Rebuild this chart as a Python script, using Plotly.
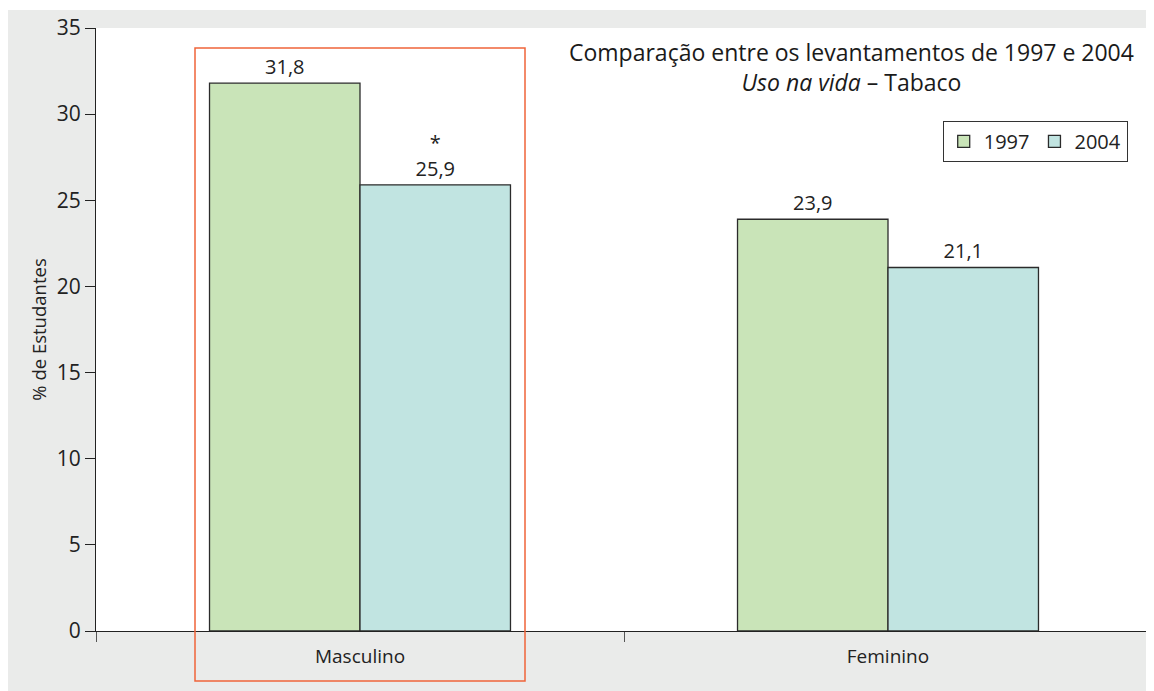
import plotly.graph_objects as go

# data
categories = ['Masculino', 'Feminino']
years = ['1997', '2004']
values_1997 = [31.8, 23.9]
values_2004 = [25.9, 21.1]
marks_2004 = ['*', '']  # significant difference marker

colors = {'1997': '#C9E4B8', '2004': '#C1E4E1'}
font_family = 'Open Sans, Noto Sans, sans-serif'


def fmt(v):
    return f'{v:.1f}'.replace('.', ',')


fig = go.Figure()

fig.add_trace(
    go.Bar(
        x = categories,
        y = values_1997,
        name = years[0],
        marker = dict(color = colors['1997'], line = dict(color = '#2b2b2b', width = 1.3)),
        text = [fmt(v) for v in values_1997],
        textposition = 'outside',
        cliponaxis = False,
    )
)

fig.add_trace(
    go.Bar(
        x = categories,
        y = values_2004,
        name = years[1],
        marker = dict(color = colors['2004'], line = dict(color = '#2b2b2b', width = 1.3)),
        text = [(m + '<br>' if m else '') + fmt(v) for v, m in zip(values_2004, marks_2004)],
        textposition = 'outside',
        cliponaxis = False,
    )
)

# plot area size in px (for placing the decorations in paper coords)
W, H = 1146, 683
ml, mr, mt, mb = 88, 2, 20, 60
pw = W - ml - mr
ph = H - mt - mb

# highlight box around the first category
n = len(categories)
half = 0.3125
x0 = (0 + 0.5 - half) / n
x1 = (0 + 0.5 + half) / n

fig.update_layout(
    width = W,
    height = H,
    margin = dict(l = ml, r = mr, t = mt, b = mb),
    paper_bgcolor = '#EAEBEA',
    plot_bgcolor = 'white',
    separators = ',.',
    barmode = 'group',
    bargap = 0.43,
    bargroupgap = 0,
    font = dict(family = font_family, color = '#222222', size = 19),
    showlegend = True,
    legend = dict(
        orientation = 'h',
        x = 0.977, xanchor = 'right',
        y = 0.846, yanchor = 'top',
        bgcolor = 'white',
        bordercolor = '#333333',
        borderwidth = 1,
        font = dict(size = 20),
        tracegroupgap = 0,
    ),
    shapes = [
        dict(type = 'rect', xref = 'paper', yref = 'paper',
             x0 = -ml / pw, x1 = 1 + mr / pw, y0 = 1 + (mt - 2) / ph, y1 = 1 + mt / ph,
             fillcolor = 'white', line = dict(width = 0), layer = 'below'),
        dict(type = 'rect', xref = 'paper', yref = 'paper',
             x0 = x0, x1 = x1, y0 = -50 / ph, y1 = 583 / ph,
             line = dict(color = '#F0643A', width = 1.5)),
    ],
    annotations = [
        dict(
            xref = 'paper', yref = 'paper',
            x = 0.985, y = 0.990,
            xanchor = 'right', yanchor = 'top', align = 'center',
            showarrow = False,
            text = 'Comparação entre os levantamentos de 1997 e 2004<br><i>Uso na vida</i> – Tabaco',
            font = dict(size = 23, color = '#1a1a1a'),
        )
    ],
)

fig.update_traces(textfont = dict(size = 20, color = '#222222'))

fig.update_yaxes(
    range = [0, 35],
    dtick = 5,
    showgrid = False,
    zeroline = False,
    showline = True,
    linecolor = '#222222',
    linewidth = 1.3,
    ticks = 'outside',
    ticklen = 10,
    tickcolor = '#222222',
    tickfont = dict(size = 21),
    title = dict(text = '% de Estudantes', font = dict(size = 18.5), standoff = 5),
)

fig.update_xaxes(
    showgrid = False,
    showline = True,
    linecolor = '#222222',
    linewidth = 1.3,
    ticks = 'outside',
    tickson = 'boundaries',
    ticklen = 10,
    ticklabelstandoff = 8,
    tickcolor = '#555555',
    tickfont = dict(size = 19),
)

# no scrollbars: the page is cut at the window edge
fig.write_html(
    'out.html',
    post_script = "document.documentElement.style.overflow='hidden';document.body.style.overflow='hidden';",
)
